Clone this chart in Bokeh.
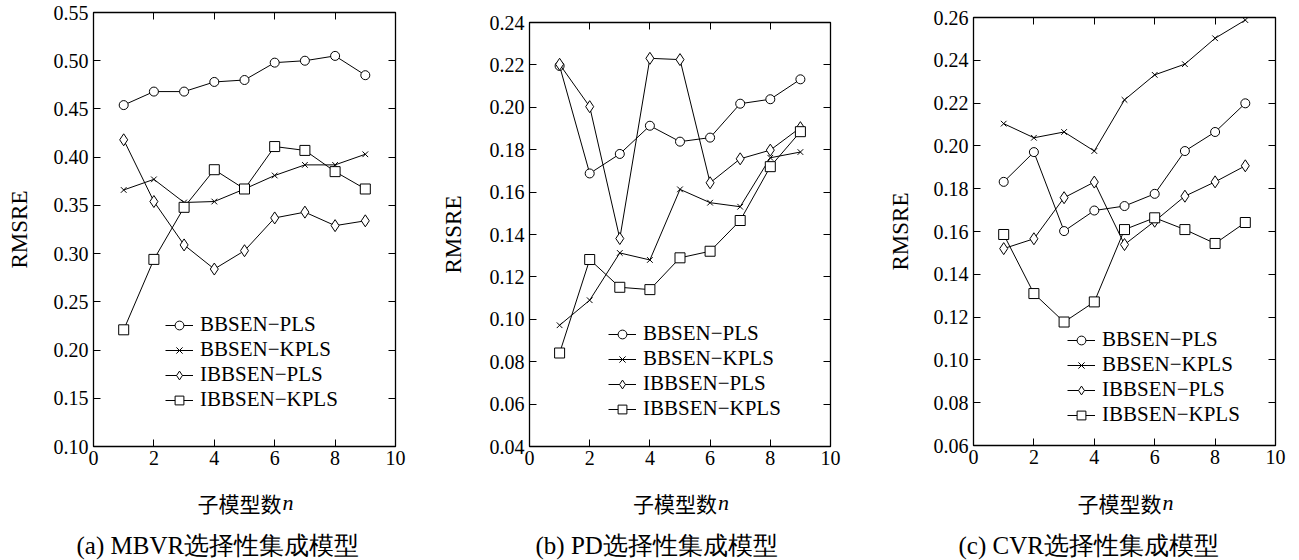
from bokeh.plotting import figure
from bokeh.layouts import row, column
from bokeh.models import (Range1d, LinearAxis, FixedTicker, PrintfTickFormatter, Legend,
                          LegendItem, CustomLabelingPolicy)
from bokeh.core.properties import value
from bokeh.embed import file_html
from bokeh.resources import INLINE

# ---------------- data ----------------
n_models = [1, 2, 3, 4, 5, 6, 7, 8, 9]
series_names = ["BBSEN\u2212PLS", "BBSEN\u2212KPLS", "IBBSEN\u2212PLS", "IBBSEN\u2212KPLS"]
x_ticks = [0, 2, 4, 6, 8, 10]

# (a) MBVR
mbvr_bbsen_pls = [0.454, 0.468, 0.468, 0.478, 0.480, 0.498, 0.500, 0.505, 0.485]
mbvr_bbsen_kpls = [0.366, 0.377, 0.353, 0.354, 0.367, 0.381, 0.392, 0.392, 0.403]
mbvr_ibbsen_pls = [0.418, 0.354, 0.309, 0.284, 0.303, 0.337, 0.343, 0.329, 0.334]
mbvr_ibbsen_kpls = [0.221, 0.294, 0.348, 0.387, 0.367, 0.411, 0.407, 0.385, 0.367]
mbvr_y_ticks = [0.10, 0.15, 0.20, 0.25, 0.30, 0.35, 0.40, 0.45, 0.50, 0.55]

# (b) PD
pd_bbsen_pls = [0.2195, 0.1688, 0.1780, 0.1913, 0.1838, 0.1857, 0.2017, 0.2038, 0.2132]
pd_bbsen_kpls = [0.0972, 0.1090, 0.1313, 0.1280, 0.1613, 0.1550, 0.1531, 0.1762, 0.1789]
pd_ibbsen_pls = [0.2203, 0.2003, 0.1381, 0.2231, 0.2225, 0.1644, 0.1757, 0.1798, 0.1904]
pd_ibbsen_kpls = [0.0841, 0.1282, 0.1151, 0.1140, 0.1290, 0.1321, 0.1466, 0.1720, 0.1885]
pd_y_ticks = [0.04, 0.06, 0.08, 0.10, 0.12, 0.14, 0.16, 0.18, 0.20, 0.22, 0.24]

# (c) CVR
cvr_bbsen_pls = [0.1832, 0.1971, 0.1602, 0.1698, 0.1719, 0.1776, 0.1976, 0.2065, 0.2199]
cvr_bbsen_kpls = [0.2104, 0.2038, 0.2065, 0.1976, 0.2215, 0.2332, 0.2382, 0.2503, 0.2588]
cvr_ibbsen_pls = [0.1520, 0.1566, 0.1758, 0.1831, 0.1539, 0.1648, 0.1765, 0.1832, 0.1907]
cvr_ibbsen_kpls = [0.1586, 0.1310, 0.1177, 0.1271, 0.1609, 0.1664, 0.1609, 0.1544, 0.1642]
cvr_y_ticks = [0.06, 0.08, 0.10, 0.12, 0.14, 0.16, 0.18, 0.20, 0.22, 0.24, 0.26]

captions = ["(a)  MBVR选择性集成模型", "(b)  PD选择性集成模型", "(c)  CVR选择性集成模型"]
x_label_cjk = "子模型数"
x_label_var = "n"
y_label = "RMSRE"

SERIF = "Liberation Serif"
CJK = "Noto Sans CJK SC"

MAIN_H = 474
TEXT_H = 560 - MAIN_H

panels = [
    dict(series=[mbvr_bbsen_pls, mbvr_bbsen_kpls, mbvr_ibbsen_pls, mbvr_ibbsen_kpls],
         yticks=mbvr_y_ticks, caption=captions[0],
         width=430, left=93, fw=302, top=12, fb=446,
         ylab_standoff=19, legend_loc=(72, 34), cap_x=76),
    dict(series=[pd_bbsen_pls, pd_bbsen_kpls, pd_ibbsen_pls, pd_ibbsen_kpls],
         yticks=pd_y_ticks, caption=captions[1],
         width=430, left=99, fw=301, top=22, fb=446,
         ylab_standoff=21, legend_loc=(79, 25), cap_x=105),
    dict(series=[cvr_bbsen_pls, cvr_bbsen_kpls, cvr_ibbsen_pls, cvr_ibbsen_kpls],
         yticks=cvr_y_ticks, caption=captions[2],
         width=439, left=113, fw=302, top=17, fb=445,
         ylab_standoff=18, legend_loc=(94, 18), cap_x=98),
]

markers = [("circle", 9), ("x", 8), ("diamond", 12), ("square", 10)]


def style_axis(ax, ticks, labels=True, fmt=None):
    ax.ticker = FixedTicker(ticks=ticks)
    ax.axis_line_color = None
    ax.major_tick_in = 7
    ax.major_tick_out = 0
    ax.major_tick_line_color = "black"
    ax.major_tick_line_width = 1
    ax.minor_tick_line_color = None
    if fmt is not None:
        ax.formatter = fmt
    ax.major_label_text_font = SERIF
    ax.major_label_text_font_size = "20px"
    ax.major_label_text_color = "black"
    if not labels:
        ax.major_label_policy = CustomLabelingPolicy(code="return new Set()")
        ax.major_label_text_font_size = "1px"
        ax.major_label_standoff = 0


cols = []
for pnl in panels:
    yt = pnl["yticks"]
    p = figure(width=pnl["width"], height=MAIN_H, output_backend="svg", toolbar_location=None,
               x_range=Range1d(0, 10), y_range=Range1d(yt[0], yt[-1]),
               min_border_left=pnl["left"], min_border_right=pnl["width"] - pnl["left"] - pnl["fw"],
               min_border_top=pnl["top"], min_border_bottom=MAIN_H - pnl["fb"])
    p.frame_align = False
    p.grid.visible = False
    p.outline_line_color = "black"
    p.outline_line_width = 1.3
    p.background_fill_color = "white"
    p.border_fill_color = "white"

    style_axis(p.xaxis[0], x_ticks)
    p.xaxis[0].major_label_standoff = 4
    style_axis(p.yaxis[0], yt, fmt=PrintfTickFormatter(format="%.2f"))
    p.yaxis[0].major_label_standoff = 5
    p.yaxis[0].axis_label = y_label
    p.yaxis[0].axis_label_text_font = SERIF
    p.yaxis[0].axis_label_text_font_size = "23px"
    p.yaxis[0].axis_label_text_font_style = "normal"
    p.yaxis[0].axis_label_text_color = "black"
    p.yaxis[0].axis_label_standoff = pnl["ylab_standoff"]

    right_ax = LinearAxis()
    style_axis(right_ax, yt, labels=False)
    p.add_layout(right_ax, "right")
    top_ax = LinearAxis()
    style_axis(top_ax, x_ticks, labels=False)
    p.add_layout(top_ax, "above")

    items = []
    for name, ys, (mk, sz) in zip(series_names, pnl["series"], markers):
        lr = p.line(n_models, ys, line_color="black", line_width=1)
        mr = p.scatter(n_models, ys, marker=mk, size=sz, line_color="black",
                       line_width=1, fill_color="white")
        items.append(LegendItem(label=name, renderers=[lr, mr]))

    legend = Legend(items=items, location=pnl["legend_loc"])
    legend.label_text_font = SERIF
    legend.label_text_font_size = "21px"
    legend.label_text_color = "black"
    legend.glyph_width = 28
    legend.glyph_height = 22
    legend.label_height = 22
    legend.label_standoff = 7
    legend.spacing = 0
    legend.padding = 0
    legend.margin = 0
    legend.border_line_color = None
    legend.background_fill_alpha = 0
    p.add_layout(legend, "center")

    # text strip below the chart: x-axis title and caption (pixel-like coordinates)
    t = figure(width=pnl["width"], height=TEXT_H, output_backend="svg", toolbar_location=None,
               x_range=Range1d(0, pnl["width"]), y_range=Range1d(0, TEXT_H),
               x_axis_type=None, y_axis_type=None, min_border=0)
    t.frame_align = False
    t.grid.visible = False
    t.outline_line_color = None
    t.background_fill_color = "white"
    t.border_fill_color = "white"
    xc = pnl["left"] + pnl["fw"] / 2
    t.text(x=[xc + 37], y=[560 - 502], text=[x_label_cjk], text_font=value(CJK),
           text_font_size="21px", text_align="right", text_baseline="middle", text_color="black")
    t.text(x=[xc + 38], y=[560 - 502], text=[x_label_var], text_font=value(SERIF),
           text_font_size="22px", text_font_style="italic", text_align="left",
           text_baseline="middle", text_color="black")
    t.text(x=[pnl["cap_x"]], y=[560 - 545], text=[pnl["caption"]], text_font=value(SERIF),
           text_font_size="25px", text_align="left", text_baseline="middle", text_color="black")
    cols.append(column(p, t, spacing=0))

layout = row(*cols, spacing=0)
open("out.html", "w").write(file_html(layout, INLINE))
